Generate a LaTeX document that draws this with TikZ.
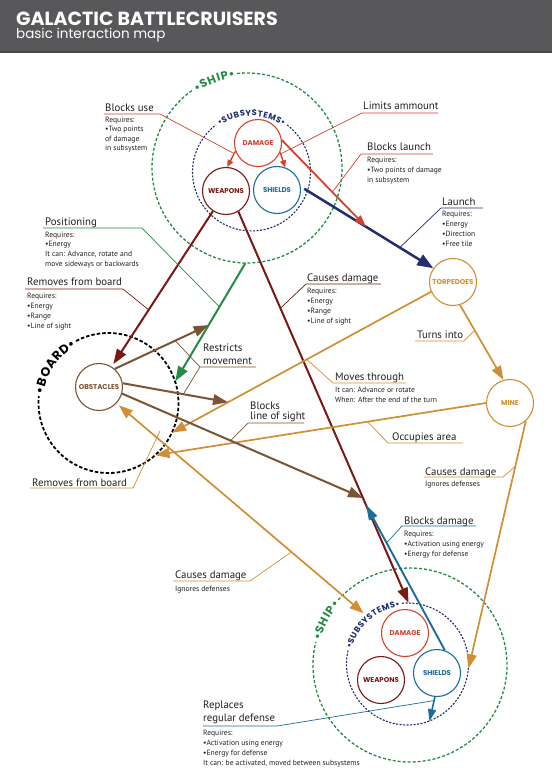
\documentclass[tikz,border=0pt]{standalone}
\usepackage{fontspec}
\setmainfont{PT Sans}
\newfontfamily\poppins{Poppins}
\usetikzlibrary{arrows.meta,calc}
\definecolor{cheader}{RGB}{88,88,90}
\definecolor{cheaderdark}{RGB}{72,72,74}
\definecolor{cgreen}{RGB}{36,140,66}
\definecolor{cnavy}{RGB}{32,46,112}
\definecolor{cred}{RGB}{212,66,46}
\definecolor{cmaroon}{RGB}{122,24,18}
\definecolor{cblue}{RGB}{26,110,154}
\definecolor{corange}{RGB}{210,142,52}
\definecolor{cbrown}{RGB}{122,84,52}
\definecolor{ctext}{RGB}{35,31,32}
\newcommand\shiptext{\poppins\bfseries\fontsize{11.5}{12}\selectfont\color{cgreen}}
\newcommand\subtext{\poppins\bfseries\fontsize{8.3}{9}\selectfont\color{cnavy}}
\newcommand\boardtext{\poppins\bfseries\fontsize{12.5}{13}\selectfont\color{black}}
% #1 ring node, #2 radius, #3 centre angle, #4 list char/width(em), #5 font, #6 raise, #7 line style, #8 font size
\newcommand\ringlabel[8]{%
  \gdef\ringsum{0}%
  \foreach \rch/\rw in {#4}{\pgfmathsetmacro\ringtmpa{\ringsum+\rw+0.08}\xdef\ringsum{\ringtmpa}}%
  \pgfmathsetmacro\ringtw{\ringsum*#8}%
  \pgfmathsetmacro\ringh{(\ringtw+5)/(#2)*28.6479}%
  \pgfmathsetmacro\ringb{#3-\ringh}%
  \pgfmathsetmacro\ringe{#3+\ringh-360}%
  \pgfmathsetmacro\ringstart{#3+\ringtw/(#2)*28.6479}%
  \pgfmathsetmacro\ringr{#2-#6}%
  \gdef\ringposm{0}%
  \foreach \rch/\rw [count=\ri] in {#4}{%
    \pgfmathsetmacro\ringang{\ringstart-(\ringposm+0.5*(\rw+0.08)*#8)/(#2)*57.2958}%
    \node[inner sep=0pt, anchor=base, rotate=\ringang-90] (#1-t\ri) at ($(#1.center)+(\ringang:\ringr)$) {#5\rch};
    \pgfmathsetmacro\ringtmpb{\ringposm+(\rw+0.08)*#8}\xdef\ringposm{\ringtmpb}}%
  \draw[#7] ($(#1.center)+(\ringb:#2)$) arc[start angle=\ringb, end angle=\ringe, radius=#2];
}
% #1 name prefix, #2 x, #3 first baseline (px from top), #4 step, #5 lines
\newcommand\textlines[5]{%
  \foreach \tline [count=\k from 0] in {#5}{%
    \node[notetext, anchor=base west] (#1\k) at (#2,{-(#3)-\k*(#4)}) {\tline};}}
\begin{document}
\begin{tikzpicture}[x=1pt,y=1pt,
  lbl/.style={font=\fontsize{10.8}{12}\selectfont, text=ctext, inner sep=0pt, anchor=base west},
  notetext/.style={font=\fontsize{7.6}{9}\selectfont, text=ctext, inner sep=0pt},
  sysnode/.style={circle, minimum size=47pt, inner sep=0pt, line width=1.1pt, fill=white,
    font=\poppins\bfseries\fontsize{7}{7}\selectfont},
  ringnode/.style={circle, inner sep=0pt, draw=none},
  shipline/.style={draw=cgreen, line width=1.3pt, dash pattern=on 3pt off 2pt},
  subline/.style={draw=cnavy, line width=1.1pt, dash pattern=on 2pt off 1.5pt},
  boardline/.style={draw=black, line width=1.8pt, dash pattern=on 3.5pt off 2pt},
  bigarrow/.style={line width=2pt, -{Triangle[length=15pt,width=10.5pt]}},
  navyarrow/.style={cnavy, line width=2.5pt, shorten <=4pt, -{Triangle[length=16pt,width=12pt]}},
  redarrow/.style={cred, line width=1.8pt, -{Triangle[length=12pt,width=8pt]}},
  minorarrow/.style={line width=1.4pt, -{Triangle[length=7pt,width=6pt]}},
  orangearrow/.style={corange, line width=1.7pt, -{Triangle[length=14pt,width=10pt]}},
  orangetwo/.style={corange, line width=1.7pt, {Triangle[length=14pt,width=10pt]}-{Triangle[length=14pt,width=10pt]}},
  bluearrow/.style={cblue, line width=1.9pt, -{Triangle[length=15pt,width=9pt]}},
  bluearrowsmall/.style={cblue, line width=1.6pt, -{Triangle[length=12pt,width=8pt]}},
  leaderline/.style={line width=0.7pt}]
\useasboundingbox (0,0) rectangle (552,-781);
\fill[white] (0,0) rectangle (552,-781);
\fill[cheader] (0,0) rectangle (552,-52);
\fill[cheaderdark] (0,-51) rectangle (552,-53.5);
\node[anchor=base west, inner sep=0pt, text=white, font=\poppins\bfseries\fontsize{19}{19}\selectfont] (title) at (16,-26) {GALACTIC BATTLECRUISERS};
\node[anchor=base west, inner sep=0pt, text=white, font=\poppins\fontsize{13.5}{14}\selectfont] (subtitle) at (16,-38.5) {basic interaction map};

% rings
\node[ringnode, minimum size=190pt] (ship1) at (247,-168) {};
\node[ringnode, minimum size=118pt] (sub1) at (251.5,-172) {};
\node[ringnode, minimum size=140pt] (board) at (108.5,-403) {};
\node[ringnode, minimum size=194pt] (ship2) at (410,-665) {};
\node[ringnode, minimum size=122pt] (sub2) at (407.5,-664) {};
\ringlabel{ship1}{95}{110.5}{•/0.45,S/0.63,H/0.77,I/0.31,P/0.66,•/0.45}{\shiptext}{4}{shipline}{11.5}
\ringlabel{sub1}{59}{90}{•/0.45,S/0.63,U/0.74,B/0.70,S/0.63,Y/0.66,S/0.63,T/0.62,E/0.58,M/0.92,S/0.63,•/0.45}{\subtext}{2.9}{subline}{8.3}
\ringlabel{board}{70}{146}{•/0.45,B/0.70,O/0.82,A/0.74,R/0.67,D/0.75,•/0.45}{\boardtext}{4.4}{boardline}{12.5}
\ringlabel{ship2}{97}{152}{•/0.45,S/0.63,H/0.77,I/0.31,P/0.66,•/0.45}{\shiptext}{4}{shipline}{11.5}
\ringlabel{sub2}{61}{131}{•/0.45,S/0.63,U/0.74,B/0.70,S/0.63,Y/0.66,S/0.63,T/0.62,E/0.58,M/0.92,S/0.63,•/0.45}{\subtext}{2.9}{subline}{8.3}

% subsystems and objects
\node[sysnode, draw=cred, text=cred] (dmg1) at (258,-143) {DAMAGE};
\node[sysnode, draw=cmaroon, text=cmaroon] (wpn1) at (226,-191) {WEAPONS};
\node[sysnode, draw=cblue, text=cblue] (shd1) at (277,-190) {SHIELDS};
\node[sysnode, draw=corange, text=corange] (torp) at (453,-282) {TORPEDOES};
\node[sysnode, draw=corange, text=corange] (mine) at (510,-403) {MINE};
\node[sysnode, draw=cbrown, text=cbrown] (obst) at (99,-387) {OBSTACLES};
\node[sysnode, draw=cred, text=cred] (dmg2) at (405,-633) {DAMAGE};
\node[sysnode, draw=cmaroon, text=cmaroon] (wpn2) at (381,-680) {WEAPONS};
\node[sysnode, draw=cblue, text=cblue] (shd2) at (437,-673) {SHIELDS};

% connectors
\draw[minorarrow, cred] (dmg1.200) -- coordinate[pos=0.15] (bu) (wpn1.87);
\draw[minorarrow, cred] (dmg1.-23) -- coordinate[pos=0.1] (lim) (shd1.70);
\draw[navyarrow] (shd1.8) -- coordinate[pos=0.4925] (bl) coordinate[pos=0.747] (lau) (torp.145);
\draw[redarrow] (dmg1.7) -- coordinate[pos=0.6] (blk) (bl);
\draw[bigarrow, cmaroon, shorten >=3pt] (wpn1.237) -- coordinate[pos=0.635] (rfb1) (obst.58);
\draw[bigarrow, cmaroon] (wpn1.-59) -- coordinate[pos=0.247] (cd1) coordinate[pos=0.732] (bls) coordinate[pos=0.75] (bd) (sub2.89);
\draw[bigarrow, cgreen] (ship1.-91) -- coordinate[pos=0.37] (pos1) coordinate[pos=0.524] (rmg) (board.18);
\draw[orangearrow] (torp.-73) -- coordinate[pos=0.336] (ti) (mine.106);
\draw[orangearrow] (torp.204) -- coordinate[pos=0.48] (mv) coordinate[pos=0.784] (rmt) (board.-25);
\draw[orangearrow] (mine.180) -- coordinate[pos=0.358] (occ) (board.-48);
\draw[orangearrow] (mine.-49) -- coordinate[pos=0.183] (cd2) (sub2.-4);
\draw[orangetwo, shorten <=3pt, shorten >=6pt] (obst.-43) -- coordinate[pos=0.695] (cd3) (sub2.130);
\draw[bigarrow, cbrown] (obst.49) -- coordinate[pos=0.644] (rm1) (rmg);
\draw[bigarrow, cbrown] (obst.9) -- coordinate[pos=0.575] (rm2) (rmt);
\draw[bigarrow, cbrown] (obst.-16) -- coordinate[pos=0.45] (blos) (bls);
\draw[bluearrow] (shd2.71) -- coordinate[pos=0.739] (bdl) (bd);
\draw[bluearrowsmall] (shd2.-95) -- coordinate[pos=0.15] (rrd) (sub2.-69);
\coordinate (rfbo) at (160,-431);

% labels
\node[lbl] (l1) at (105,-111) {Blocks use};
\textlines{n1-}{105}{122}{9.6}{Requires:,•Two points,of damage,in subsystem}
\coordinate (u1a) at (104,-114); \coordinate (u1b) at (160,-114);
\draw[leaderline, cred] (u1a) -- (u1b) -- (bu);

\node[lbl] (l2) at (363,-110) {Limits ammount};
\coordinate (u2a) at (362,-113); \coordinate (u2b) at (438,-113);
\draw[leaderline, cred] (u2b) -- (u2a) -- (lim);

\node[lbl] (l3) at (367,-150) {Blocks launch};
\textlines{n3-}{367}{162}{10}{Requires:,•Two points of damage,in subsystem}
\coordinate (u3a) at (361,-154); \coordinate (u3b) at (433,-154);
\draw[leaderline, cred] (u3b) -- (u3a) -- (blk);

\node[lbl] (l4) at (442,-205) {Launch};
\textlines{n4-}{442}{216}{10}{Requires:,•Energy,•Direction,•Free tile}
\coordinate (u4a) at (441,-208); \coordinate (u4b) at (483,-208);
\draw[leaderline, cnavy] (u4b) -- (u4a) -- (lau);

\node[lbl] (l5) at (45,-225) {Positioning};
\textlines{n5-}{45}{237}{9.7}{Requires:,•Energy,{It can: Advance, rotate and},move sideways or backwards}
\coordinate (u5a) at (43,-228); \coordinate (u5b) at (142,-228);
\draw[leaderline, cgreen] (u5a) -- (u5b) -- (pos1);

\node[lbl] (l6) at (27,-285) {Removes from board};
\textlines{n6-}{27}{298}{10}{Requires:,•Energy,•Range,•Line of sight}
\coordinate (u6a) at (25,-289); \coordinate (u6b) at (123,-289);
\draw[leaderline, cmaroon] (u6a) -- (u6b) -- (rfb1);

\node[lbl] (l7) at (307,-281) {Causes damage};
\textlines{n7-}{307}{293}{10}{Requires:,•Energy,•Range,•Line of sight}
\coordinate (u7a) at (306,-284); \coordinate (u7b) at (381,-284);
\draw[leaderline, cmaroon] (u7b) -- (u7a) -- (cd1);

\node[lbl] (l8a) at (203,-351) {Restricts};
\node[lbl] (l8b) at (203,-364) {movement};
\coordinate (u8a) at (200,-367); \coordinate (u8b) at (256,-367);
\draw[leaderline, cbrown] (u8b) -- (u8a) -- (rm1);
\draw[leaderline, cbrown] (u8a) -- (rm2);

\node[lbl] (l9a) at (250,-409) {Blocks};
\node[lbl] (l9b) at (250,-419.5) {line of sight};
\coordinate (u9a) at (248,-423); \coordinate (u9b) at (304,-423);
\draw[leaderline, cbrown] (u9b) -- (u9a) -- (blos);

\node[lbl] (l10) at (417,-338) {Turns into};
\coordinate (u10a) at (415,-341); \coordinate (u10b) at (464,-341);
\draw[leaderline, corange] (u10a) -- (u10b) -- (ti);

\node[lbl] (l11) at (335,-380) {Moves through};
\textlines{n11-}{335}{392}{10}{It can: Advance or rotate,When: After the end of the turn}
\coordinate (u11a) at (333,-383); \coordinate (u11b) at (406,-383);
\draw[leaderline, corange] (u11b) -- (u11a) -- (mv);

\node[lbl] (l12) at (392,-440) {Occupies area};
\coordinate (u12a) at (388,-443); \coordinate (u12b) at (463,-443);
\draw[leaderline, corange] (u12b) -- (u12a) -- (occ);

\node[lbl] (l13) at (425,-475) {Causes damage};
\textlines{n13-}{425}{486}{10}{Ignores defenses}
\coordinate (u13a) at (424,-477); \coordinate (u13b) at (503,-477);
\draw[leaderline, corange] (u13a) -- (u13b) -- (cd2);

\node[lbl] (l14) at (32,-486) {Removes from board};
\coordinate (u14a) at (30,-488); \coordinate (u14b) at (133,-488);
\draw[leaderline, corange] (u14a) -- (u14b) -- (rfbo);

\node[lbl] (l15) at (175,-578) {Causes damage};
\textlines{n15-}{175}{591}{10}{Ignores defenses}
\coordinate (u15a) at (173,-581); \coordinate (u15b) at (250,-581);
\draw[leaderline, corange] (u15a) -- (u15b) -- (cd3);

\node[lbl] (l16) at (404,-524) {Blocks damage};
\textlines{n16-}{404}{536}{10}{Requires:,•Activation using energy,•Energy for defense}
\coordinate (u16a) at (402,-526); \coordinate (u16b) at (476,-526);
\draw[leaderline, cblue] (u16b) -- (u16a) -- (bdl);

\node[lbl] (l17a) at (203,-708) {Replaces};
\node[lbl] (l17b) at (203,-721) {regular defense};
\textlines{n17-}{203}{735}{10}{Requires:,•Activation using energy,•Energy for defense,{It can: be activated, moved between subsystems}}
\coordinate (u17a) at (203,-726); \coordinate (u17b) at (277,-726);
\draw[leaderline, cblue] (u17a) -- (u17b) -- (rrd);
\end{tikzpicture}
\end{document}
